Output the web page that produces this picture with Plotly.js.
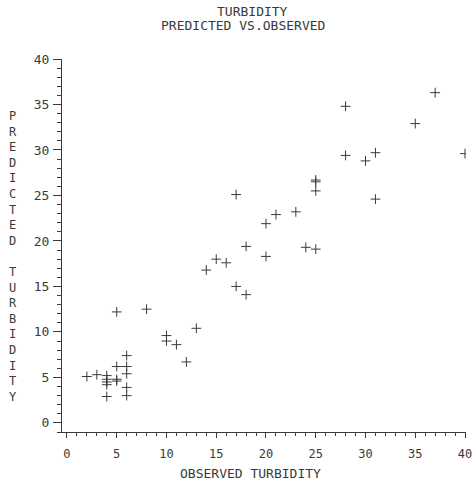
<!DOCTYPE html>
<html>
<head>
<meta charset="utf-8">
<script src="https://cdn.plot.ly/plotly-3.0.1.min.js"></script>
<style>html,body{margin:0;padding:0;background:#fff;}#chart{width:473px;height:493px;}</style>
</head>
<body>
<div id="chart"></div>
<script>
var observed = [2,3,4,4,4,4,4,5,5,5,5,6,6,6,6,6,8,10,10,11,12,13,14,15,16,17,17,18,18,20,20,21,23,24,25,25,25,25,28,28,30,31,31,35,37,40];
var predicted = [5.1,5.3,5.2,4.8,4.5,4.2,2.9,12.2,6.2,4.8,4.6,7.4,6.2,5.4,3.9,3.0,12.5,9.6,9.0,8.6,6.7,10.4,16.8,18.0,17.6,25.1,15.0,19.4,14.1,21.9,18.3,22.9,23.2,19.3,26.7,26.5,25.5,19.1,34.8,29.4,28.8,29.7,24.6,32.9,36.3,29.6];
var titleLines = ["TURBIDITY", "PREDICTED VS.OBSERVED"];
var xTitle = "OBSERVED TURBIDITY";
var yTitle = "PREDICTED TURBIDITY";
var tickValues = [0,5,10,15,20,25,30,35,40];
var tickLabels = ["0","5","10","15","20","25","30","35","40"];

var ink = "#3a3a3a";
var mono = "DejaVu Sans Mono, Liberation Mono, monospace";

var trace = {
  x: observed, y: predicted, type: "scatter", mode: "markers",
  marker: {symbol: "cross-thin", size: 7, line: {width: 1, color: ink}, color: ink},
  hoverinfo: "none"
};

var yStacked = yTitle.split("").join("<br>");

var layout = {
  width: 473, height: 493,
  margin: {l: 62, r: 7, t: 59, b: 61},
  paper_bgcolor: "#fff", plot_bgcolor: "#fff",
  showlegend: false,
  xaxis: {
    range: [-0.5, 40.1], showgrid: false, zeroline: false,
    showline: true, linecolor: ink, linewidth: 1,
    ticks: "outside", ticklen: 5, tickwidth: 1, tickcolor: ink,
    tickvals: tickValues, ticktext: tickLabels,
    minor: {dtick: 1, tick0: 0, ticks: "outside", ticklen: 3, tickwidth: 1, tickcolor: ink},
    tickfont: {family: mono, size: 12, color: ink},
    ticklabelstandoff: 6
  },
  yaxis: {
    range: [-1.0, 40], showgrid: false, zeroline: false,
    showline: true, linecolor: ink, linewidth: 1,
    ticks: "outside", ticklen: 8, tickwidth: 1, tickcolor: ink,
    tickvals: tickValues, ticktext: tickLabels,
    minor: {dtick: 1, tick0: 0, ticks: "outside", ticklen: 4, tickwidth: 1, tickcolor: ink},
    tickfont: {family: mono, size: 13, color: ink},
    ticklabelstandoff: 1
  },
  annotations: [
    {text: titleLines[0], xref: "paper", yref: "paper", x: (252-62)/404, y: 1 + (59-12)/373,
     xanchor: "center", yanchor: "middle", showarrow: false, font: {family: mono, size: 13, color: ink}},
    {text: titleLines[1], xref: "paper", yref: "paper", x: (243-62)/404, y: 1 + (59-26)/373,
     xanchor: "center", yanchor: "middle", showarrow: false, font: {family: mono, size: 13, color: ink}},
    {text: xTitle, xref: "paper", yref: "paper", x: (250-62)/404, y: -(473-432)/373,
     xanchor: "center", yanchor: "middle", showarrow: false, font: {family: mono, size: 13, color: ink}},
    {text: yStacked, xref: "paper", yref: "paper", x: -(62-13)/404, y: (432-256)/373,
     xanchor: "center", yanchor: "middle", showarrow: false, align: "center",
     font: {family: mono, size: 12, color: ink}}
  ]
};

Plotly.newPlot("chart", [trace], layout, {staticPlot: true, displayModeBar: false});
</script>
</body>
</html>
